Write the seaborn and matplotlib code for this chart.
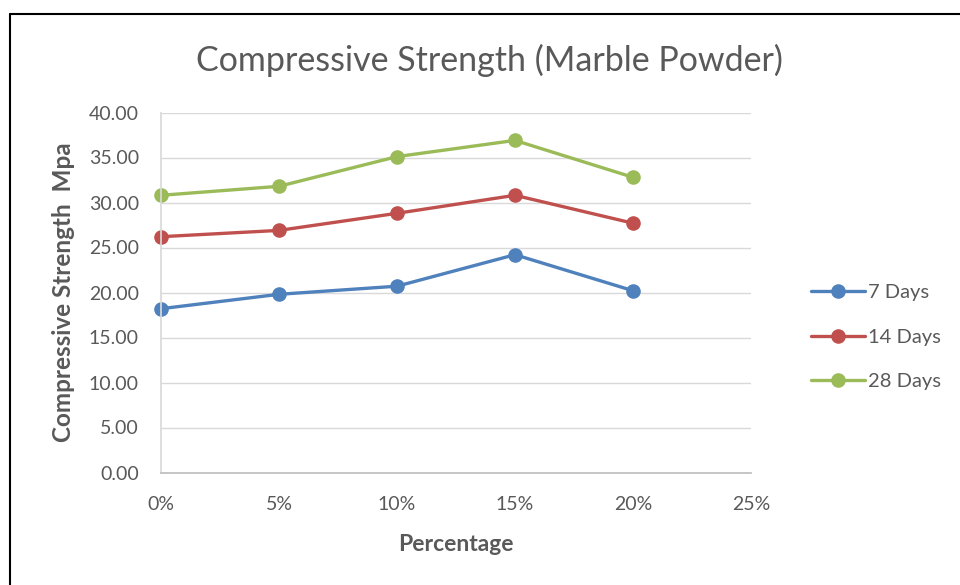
import matplotlib
matplotlib.use("Agg")
import matplotlib.pyplot as plt
from matplotlib.lines import Line2D
from matplotlib.ticker import FuncFormatter, MultipleLocator
import seaborn as sns
import pandas as pd

# Marble powder replacement level (fraction) and strength results in MPa
percentage = [0.00, 0.05, 0.10, 0.15, 0.20]
days_7 = [18.2, 19.8, 20.7, 24.2, 20.2]
days_14 = [26.2, 26.9, 28.8, 30.8, 27.7]
days_28 = [30.8, 31.8, 35.1, 36.9, 32.8]
series_names = ["7 Days", "14 Days", "28 Days"]
series_colors = ["#4F81BD", "#C0504D", "#9BBB59"]

frames = []
for name, vals in zip(series_names, [days_7, days_14, days_28]):
    frames.append(pd.DataFrame({"Percentage": percentage, "Strength": vals, "Age": name}))
df = pd.concat(frames, ignore_index=True)

sns.set_theme(style="white")
plt.rcParams["font.family"] = ["Lato", "DejaVu Sans"]

fig = plt.figure(figsize=(9.6, 5.85), dpi=100)
ax = fig.add_axes([161 / 960, 1 - 472.5 / 585, (751 - 161) / 960, (472.5 - 112.5) / 585])

sns.lineplot(
    data=df, x="Percentage", y="Strength", hue="Age",
    hue_order=series_names, palette=series_colors,
    marker="o", markersize=10.5, markeredgewidth=0, linewidth=2.4,
    ax=ax, legend=False,
)

ax.set_xlim(0, 0.25)
ax.set_ylim(0, 40)
ax.xaxis.set_major_locator(MultipleLocator(0.05))
ax.yaxis.set_major_locator(MultipleLocator(5))
ax.xaxis.set_major_formatter(FuncFormatter(lambda v, p: f"{v * 100:.0f}%"))
ax.yaxis.set_major_formatter(FuncFormatter(lambda v, p: f"{v:.2f}"))
ax.grid(axis="y", color="#D9D9D9", linewidth=1)
ax.grid(axis="x", visible=False)
for side in ["top", "right"]:
    ax.spines[side].set_visible(False)
ax.spines["left"].set_color("#D9D9D9")
ax.spines["bottom"].set_color("#BFBFBF")
ax.tick_params(axis="both", length=0, colors="#595959", labelsize=14)
ax.tick_params(axis="x", pad=17)
ax.tick_params(axis="y", pad=16)
for ln in ax.lines:
    ln.set_clip_on(False)

ax.set_xlabel("Percentage", fontsize=16.5, fontweight="bold", color="#595959", labelpad=15)
ax.set_ylabel("Compressive Strength  Mpa", fontsize=17.5, fontweight="bold", color="#595959", labelpad=10)

fig.text(0.51, 1 - 60 / 585, "Compressive Strength (Marble Powder)",
         ha="center", va="center", fontsize=24.5, color="#595959")

handles = [Line2D([0], [0], color=c, linewidth=2.4, marker="o", markersize=10.5, markeredgewidth=0)
           for c in series_colors]
fig.legend(handles, series_names, loc="center left",
           bbox_to_anchor=(803 / 960, 1 - 337 / 585), frameon=False,
           fontsize=14.5, labelcolor="#595959", handlelength=2.7, handletextpad=0.15,
           labelspacing=1.35, borderaxespad=0)

# Black frame lines along the top and left edges of the chart area
fig.add_artist(Line2D([9.5 / 960, 9.5 / 960], [0, 1 - 13.5 / 585], color="black", linewidth=1.5,
                      transform=fig.transFigure))
fig.add_artist(Line2D([9.5 / 960, 1], [1 - 13.5 / 585, 1 - 13.5 / 585], color="black", linewidth=1.5,
                      transform=fig.transFigure))

fig.savefig("out.png", dpi=100, facecolor="white")
